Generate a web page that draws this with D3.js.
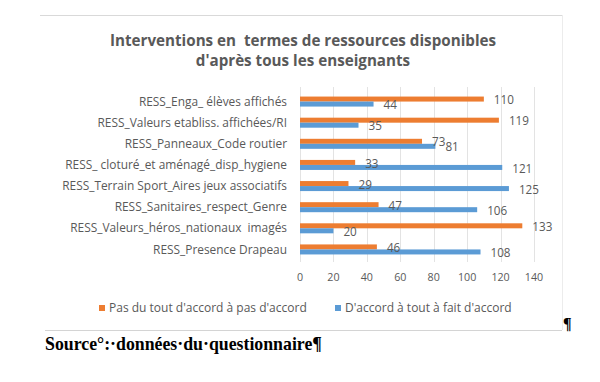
<!DOCTYPE html>
<html>
<head>
<meta charset="utf-8">
<script src="https://cdn.jsdelivr.net/npm/d3@7"></script>
<style>
  body { margin: 0; background: #fff; }
  svg { display: block; }
</style>
</head>
<body>
<div id="chart"></div>
<script>
const categories = [
  "RESS_Enga_ élèves affichés",
  "RESS_Valeurs etabliss. affichées/RI",
  "RESS_Panneaux_Code routier",
  "RESS_ cloturé_et aménagé_disp_hygiene",
  "RESS_Terrain Sport_Aires jeux associatifs",
  "RESS_Sanitaires_respect_Genre",
  "RESS_Valeurs_héros_nationaux  imagés",
  "RESS_Presence Drapeau"
];
const pasAccord = [110, 119, 73, 33, 29, 47, 133, 46];
const accord = [44, 35, 81, 121, 125, 106, 20, 108];
const seriesNames = ["Pas du tout d'accord à pas d'accord", "D'accord à tout à fait d'accord"];
const seriesColors = ["#ED7D31", "#5B9BD5"];
const xTicks = [0, 20, 40, 60, 80, 100, 120, 140];

const width = 600, height = 382;
const plot = { left: 300, right: 534, top: 91, bottom: 260 };
const font = "'Open Sans', sans-serif";
const textGray = "#595959";

const svg = d3.select("#chart").append("svg")
  .attr("width", width)
  .attr("height", height);

// chart frame (word document style)
svg.append("line").attr("x1", 40).attr("x2", 562).attr("y1", 15.5).attr("y2", 15.5)
  .attr("stroke", "#d9d9d9");
svg.append("line").attr("x1", 562.5).attr("x2", 562.5).attr("y1", 15).attr("y2", 330)
  .attr("stroke", "#ececec");
svg.append("line").attr("x1", 45).attr("x2", 562).attr("y1", 330.5).attr("y2", 330.5)
  .attr("stroke", "#d4d4d4");

// title
const title = svg.append("text")
  .attr("text-anchor", "middle")
  .attr("font-family", font)
  .attr("font-weight", "bold")
  .attr("font-size", 15.2)
  .attr("fill", textGray)
  .attr("xml:space", "preserve");
title.append("tspan").attr("x", 303).attr("y", 45.5).text("Interventions en  termes de ressources disponibles");
title.append("tspan").attr("x", 303).attr("y", 66).text("d'après tous les enseignants");

const x = d3.scaleLinear().domain([0, 140]).range([plot.left, plot.right]);
const y = d3.scaleBand().domain(categories).range([plot.top, plot.bottom])
  .paddingInner(0.526).paddingOuter(0.263);
const ySub = d3.scaleBand().domain([0, 1]).range([0, y.bandwidth()]);

// gridlines
svg.append("g").selectAll("line")
  .data(xTicks)
  .join("line")
  .attr("x1", d => Math.round(x(d)) + 0.5)
  .attr("x2", d => Math.round(x(d)) + 0.5)
  .attr("y1", plot.top - 4)
  .attr("y2", plot.bottom + 2)
  .attr("stroke", "#e3e3e3");

// x tick labels
svg.append("g").selectAll("text")
  .data(xTicks)
  .join("text")
  .attr("x", d => x(d))
  .attr("y", 277)
  .attr("dy", "0.35em")
  .attr("text-anchor", "middle")
  .attr("font-family", font)
  .attr("font-size", 10.7)
  .attr("fill", textGray)
  .text(d => d);

// category labels
svg.append("g").selectAll("text")
  .data(categories)
  .join("text")
  .attr("x", 287)
  .attr("y", d => y(d) + y.bandwidth() / 2)
  .attr("dy", "0.35em")
  .attr("text-anchor", "end")
  .attr("font-family", font)
  .attr("font-size", 11.9)
  .attr("fill", textGray)
  .attr("xml:space", "preserve")
  .text(d => d);

const rows = categories.map((c, i) => ({ cat: c, vals: [pasAccord[i], accord[i]] }));
const cells = rows.flatMap(r => r.vals.map((v, s) => ({ cat: r.cat, s, v })));

svg.append("g").selectAll("rect")
  .data(cells)
  .join("rect")
  .attr("x", x(0))
  .attr("y", d => y(d.cat) + ySub(d.s))
  .attr("width", d => x(d.v) - x(0))
  .attr("height", ySub.bandwidth())
  .attr("fill", d => seriesColors[d.s]);

svg.append("g").selectAll("text")
  .data(cells)
  .join("text")
  .attr("x", d => x(d.v) + 10)
  .attr("y", d => y(d.cat) + ySub(d.s) + ySub.bandwidth() / 2 + 1)
  .attr("dy", "0.35em")
  .attr("font-family", font)
  .attr("font-size", 11.7)
  .attr("fill", textGray)
  .text(d => d.v);

// legend
const legendX = [99, 335];
const legend = svg.append("g").selectAll("g")
  .data(seriesNames)
  .join("g")
  .attr("transform", (d, i) => `translate(${legendX[i]}, 308)`);
legend.append("rect")
  .attr("x", 0).attr("y", -3)
  .attr("width", 6).attr("height", 6)
  .attr("fill", (d, i) => seriesColors[i]);
legend.append("text")
  .attr("x", 10)
  .attr("dy", "0.35em")
  .attr("font-family", font)
  .attr("font-size", 12)
  .attr("fill", textGray)
  .text(d => d);

// pilcrow marks and source line
svg.append("text")
  .attr("x", 563).attr("y", 329)
  .attr("font-family", "'Liberation Serif', serif")
  .attr("font-weight", "bold")
  .attr("font-size", 16)
  .attr("fill", "#000")
  .text("¶");
svg.append("text")
  .attr("x", 45).attr("y", 350)
  .attr("font-family", "'Liberation Serif', serif")
  .attr("font-weight", "bold")
  .attr("font-size", 17.8)
  .attr("fill", "#000")
  .text("Source°:·données·du·questionnaire¶");
</script>
</body>
</html>
